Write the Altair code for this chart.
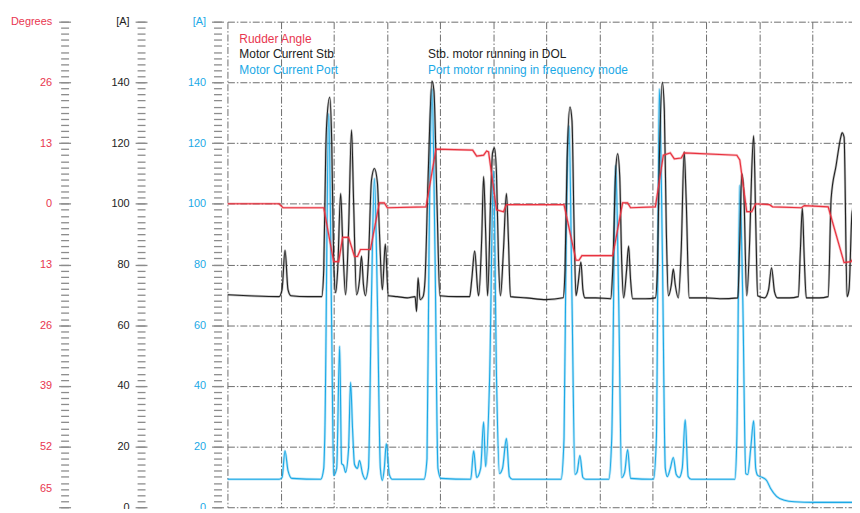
import altair as alt
import pandas as pd

# ---------------- data (time in s, currents in A, rudder angle in degrees) -------------
port_t = [0, 9.71, 10.27, 10.83, 11.39, 12.14, 17.55, 18.11, 18.30, 19.05, 19.61, 19.98,
          20.54, 21.10, 21.47, 21.85, 22.22, 22.78, 23.16, 23.53, 23.90, 24.46, 24.84,
          25.40, 25.96, 26.52, 27.08, 27.64, 28.20, 28.76, 29.13, 29.50, 29.88, 30.44,
          31.00, 36.97, 37.53, 37.91, 38.47, 39.03, 39.59, 40.15, 45.75, 46.31, 46.87,
          47.62, 48.18, 48.55, 49.30, 50.05, 50.61, 51.17, 51.73, 52.47, 53.03, 53.59,
          62.74, 63.30, 63.68, 64.24, 64.80, 65.36, 65.74, 66.29, 66.85, 67.41, 71.71,
          72.27, 73.02, 73.58, 74.14, 74.70, 75.26, 75.82, 80.11, 80.67, 81.23, 81.79,
          82.35, 82.73, 83.29, 83.85, 84.41, 84.97, 85.53, 86.09, 86.65, 87.21, 95.42,
          95.80, 96.36, 96.92, 97.48, 97.85, 98.41, 98.97, 99.35, 99.72, 100.65, 101.40,
          102.15, 103.27, 104.76, 106.63, 110.36, 117.83]
port_a = [9.2, 9.2, 9.8, 18.6, 12.1, 9.5, 9.2, 12.8, 22.6, 129.6, 58.6, 10.5,
          12.8, 53.0, 14.4, 13.7, 11.5, 19.3, 41.2, 25.8, 14.1, 12.8, 15.4,
          11.1, 9.2, 12.8, 68.4, 108.3, 68.4, 12.8, 8.8, 12.8, 20.9, 10.8,
          9.2, 9.2, 16.0, 84.7, 137.8, 84.7, 12.8, 9.5, 9.2, 18.6, 9.8,
          12.8, 28.1, 13.4, 42.2, 110.9, 42.2, 11.1, 12.8, 22.6, 10.1, 9.2,
          9.2, 22.6, 84.7, 125.6, 68.4, 10.8, 11.5, 17.0, 9.8, 9.2, 9.2,
          22.6, 112.6, 68.4, 9.8, 11.5, 19.0, 9.5, 9.2, 22.6, 137.8, 84.7,
          12.8, 10.1, 12.8, 16.4, 10.8, 9.8, 12.8, 28.8, 10.1, 9.2, 9.2,
          22.6, 106.0, 68.4, 11.1, 10.8, 19.3, 28.5, 12.8, 10.5, 9.8, 8.8,
          6.2, 3.6, 2.3, 1.8, 1.6, 1.6]

stb_t = [0, 3.92, 9.71, 10.27, 10.83, 11.39, 11.95, 15.13, 17.74, 18.11, 18.49, 18.67,
         19.23, 19.61, 19.98, 20.35, 20.73, 21.29, 21.66, 22.22, 22.78, 23.34, 23.72,
         24.28, 24.84, 25.21, 25.58, 25.96, 26.52, 27.08, 27.64, 28.20, 28.57, 29.13,
         29.69, 30.25, 31.93, 33.80, 35.29, 35.57, 35.85, 36.23, 36.79, 37.16, 37.72,
         38.47, 38.84, 39.40, 39.96, 43.14, 45.56, 45.94, 46.50, 47.06, 47.25, 47.81,
         48.18, 48.55, 48.93, 49.49, 49.86, 50.23, 50.61, 50.98, 51.35, 51.91, 52.47,
         52.85, 53.22, 56.21, 59.94, 63.12, 63.49, 63.87, 64.43, 64.80, 65.17, 65.55,
         65.92, 66.48, 66.85, 67.23, 69.28, 72.08, 72.46, 73.02, 73.39, 73.77, 74.14,
         74.51, 75.07, 75.44, 75.82, 76.19, 78.62, 80.48, 80.86, 81.23, 81.79, 82.17,
         82.54, 82.92, 83.48, 83.85, 84.22, 84.78, 85.34, 85.90, 86.28, 86.84, 89.82,
         92.62, 95.98, 96.36, 96.73, 97.10, 97.66, 98.22, 98.60, 98.97, 99.35, 99.72,
         101.03, 101.77, 102.33, 102.89, 103.45, 105.69, 107.37, 107.75, 108.12, 108.49,
         108.87, 111.30, 112.98, 113.54, 114.47, 115.41, 115.60, 115.97, 116.53, 116.90,
         117.46, 117.83]
stb_a = [70.0, 69.7, 69.4, 71.7, 84.7, 71.7, 69.7, 69.4, 69.4, 78.2, 117.5, 126.6,
         135.1, 120.7, 81.5, 70.7, 78.2, 103.4, 88.0, 70.0, 91.3, 124.3, 101.1,
         70.0, 74.9, 82.8, 73.3, 69.7, 81.5, 107.6, 111.6, 107.0, 91.3, 71.7,
         86.7, 69.7, 69.4, 69.0, 69.4, 64.5, 75.6, 68.4, 69.4, 74.9, 107.6,
         140.4, 137.1, 101.1, 69.7, 69.4, 69.4, 74.9, 84.4, 71.7, 69.7, 88.0,
         109.0, 91.3, 69.7, 101.1, 116.8, 118.4, 109.3, 81.5, 69.7, 84.7, 103.4,
         88.0, 69.4, 69.0, 68.4, 69.0, 78.2, 114.2, 131.9, 127.3, 94.6, 69.7,
         73.3, 80.8, 71.7, 69.0, 69.0, 68.7, 78.2, 110.9, 116.5, 109.3, 81.5,
         69.0, 78.2, 86.1, 74.9, 68.7, 68.7, 69.0, 78.2, 114.2, 140.0, 130.6,
         91.3, 69.7, 73.3, 78.5, 73.3, 69.0, 84.7, 117.1, 101.1, 69.0, 69.0,
         68.7, 69.0, 88.0, 109.9, 104.4, 69.7, 88.0, 110.9, 122.4, 94.6, 69.7,
         69.0, 71.7, 78.9, 71.0, 69.0, 69.0, 69.4, 84.7, 98.5, 81.5,
         69.0, 69.0, 69.4, 101.8, 112.6, 122.4, 123.4, 122.0, 69.4, 71.7,
         96.9, 99.5]

rudder_t = [0, 9.71, 10.46, 18.11, 19.98, 20.92, 21.66, 22.78, 23.90, 24.46, 25.02,
            26.89, 28.57, 29.50, 30.07, 37.35, 39.22, 46.12, 46.87, 48.18, 48.74,
            49.11, 50.61, 51.91, 52.47, 58.08, 63.30, 65.55, 66.11, 66.67, 72.46,
            74.32, 75.26, 75.82, 80.48, 81.98, 83.29, 84.04, 85.34, 85.90, 95.80,
            96.36, 97.66, 98.60, 99.35, 101.96, 102.52, 107.93, 108.49, 112.98,
            115.97, 117.27, 117.83]
rudder_deg = [0, 0, -0.85, -0.85, -12.4, -12.4, -7.2, -7.2, -11.3, -11.3, -9.8,
              -9.8, 0.2, 0.2, -0.85, -0.65, 11.7, 11.5, 10.2, 10.4, 11.3,
              11.1, -1.3, -1.7, -0.2, -0.2, -0.2, -12.1, -12.1, -11.1, -11.1,
              0.2, 0.2, -0.85, -0.65, 10.4, 10.9, 9.6, 9.8, 10.9, 10.4,
              9.4, -1.7, -1.7, 0, -0.2, -0.65, -0.85, -0.4, -0.65,
              -12.6, -12.4, -11.5]

amp_major = [0, 20, 40, 60, 80, 100, 120, 140, 160]
amp_minor = list(range(0, 161, 2))
deg_major = [39, 26, 13, 0, -13, -26, -39, -52, -65]
deg_minor = [round(-65 + 1.3 * i, 2) for i in range(81)]
grid_t = [0, 10, 20, 30, 40, 50, 60, 70, 80, 90, 100, 110]

legend_left = ["Rudder Angle", "Motor Current Stb", "Motor Current Port"]
legend_right = ["Stb. motor running in DOL", "Port motor running in frequency mode"]

# ---------------- styles -------------
RED = "#e8323f"
RED_TXT = "#e8364f"
BLUE = "#1ba9e6"
BLACK = "#222222"
TICK = "#8c8c8c"
GRID = "#6e6e6e"
FONT = "Liberation Sans"
DASH = [7, 2, 1.5, 2]
T_MAX = 117.46

port_df = pd.DataFrame({"t": port_t, "a": port_a})
stb_df = pd.DataFrame({"t": stb_t, "a": stb_a})
rud_df = pd.DataFrame({"t": rudder_t, "deg": rudder_deg})

X = alt.X("t:Q", scale=alt.Scale(domain=[0, T_MAX], nice=False, zero=False),
          axis=alt.Axis(values=grid_t, grid=True, gridDash=DASH, gridColor=GRID,
                        gridWidth=1, labels=False, ticks=False, domain=False, title=None))

amp_scale = alt.Scale(domain=[0, 160], nice=False, zero=False)
deg_scale = alt.Scale(domain=[-65, 39], nice=False, zero=False)


def amp_major_axis(offset, color, grid):
    return alt.Axis(orient="left", offset=offset, values=amp_major, tickSize=12,
                    tickColor=TICK, tickWidth=1.3, labelPadding=6, labelColor=color,
                    labelFont=FONT, labelFontSize=11, labelOverlap=False,
                    labelExpr="datum.value == 160 ? '[A]' : datum.label",
                    grid=grid, gridDash=DASH, gridColor=GRID, gridWidth=1,
                    domain=False, title=None)


def minor_axis(offset, values):
    return alt.Axis(orient="left", offset=offset, values=values, tickSize=8,
                    tickColor=TICK, tickWidth=1.3, labels=False, grid=False,
                    domain=False, title=None)


def line(df, field, scale, axis, color, width, opacity=1.0, interp="linear"):
    return alt.Chart(df).mark_line(color=color, strokeWidth=width, opacity=opacity,
                                   clip=True, interpolate=interp).encode(
        x=X, y=alt.Y(f"{field}:Q", scale=scale, axis=axis))


layers = [
    # port (blue) + its axes
    line(port_df, "a", amp_scale, amp_major_axis(4, BLUE, True), BLUE, 2.6, 0.3, "monotone"),
    line(port_df, "a", amp_scale, minor_axis(6, amp_minor), BLUE, 0.1, 0.0),
    line(port_df, "a", amp_scale, None, BLUE, 1.1, 1.0, "monotone"),
    # stb (black) + its axes
    line(stb_df, "a", amp_scale, amp_major_axis(81, BLACK, False), BLACK, 2.4, 0.28, "monotone"),
    line(stb_df, "a", amp_scale, minor_axis(83, amp_minor), BLACK, 0.1, 0.0),
    line(stb_df, "a", amp_scale, None, BLACK, 1.1, 1.0, "monotone"),
    # rudder (red) + degree axes
    line(rud_df, "deg", deg_scale,
         alt.Axis(orient="left", offset=158, values=deg_major, tickSize=12,
                  tickColor=TICK, tickWidth=1.3, labelPadding=7, labelColor=RED_TXT,
                  labelFont=FONT, labelFontSize=11, labelOverlap=False,
                  labelExpr="datum.value == 39 ? 'Degrees' : (datum.value == -65 ? '' : format(abs(datum.value), 'd'))",
                  grid=False, domain=False, title=None),
         RED, 2.6, 0.3),
    line(rud_df, "deg", deg_scale,
         alt.Axis(orient="left", offset=160, values=deg_minor, tickSize=8,
                  tickColor=TICK, tickWidth=1.3, labelPadding=9, labelColor=RED_TXT,
                  labelFont=FONT, labelFontSize=11, labelOverlap=False,
                  labelExpr="abs(datum.value + 61.1) < 0.01 ? '65' : ''",
                  grid=False, domain=False, title=None),
         RED, 0.1, 0.0),
    line(rud_df, "deg", deg_scale, None, RED, 1.2),
]

text_colors_left = [RED_TXT, BLACK, BLUE]
for i, (txt, col) in enumerate(zip(legend_left, text_colors_left)):
    layers.append(alt.Chart(pd.DataFrame({"s": [txt]})).mark_text(
        align="left", baseline="middle", font=FONT, fontSize=12, color=col).encode(
        x=alt.value(12), y=alt.value(17 + 16 * i), text="s:N"))
for i, (txt, col) in enumerate(zip(legend_right, [BLACK, BLUE])):
    layers.append(alt.Chart(pd.DataFrame({"s": [txt]})).mark_text(
        align="left", baseline="middle", font=FONT, fontSize=12, color=col).encode(
        x=alt.value(202), y=alt.value(33 + 16 * i), text="s:N"))

chart = alt.layer(*layers).resolve_scale(y="independent").properties(
    width=629, height=489,
    autosize=alt.AutoSizeParams(type="none"),
    padding={"left": 221, "top": 12, "right": 0, "bottom": 0},
).configure_view(stroke=None)

chart.save("out.html", embed_options={"renderer": "svg", "actions": False})
